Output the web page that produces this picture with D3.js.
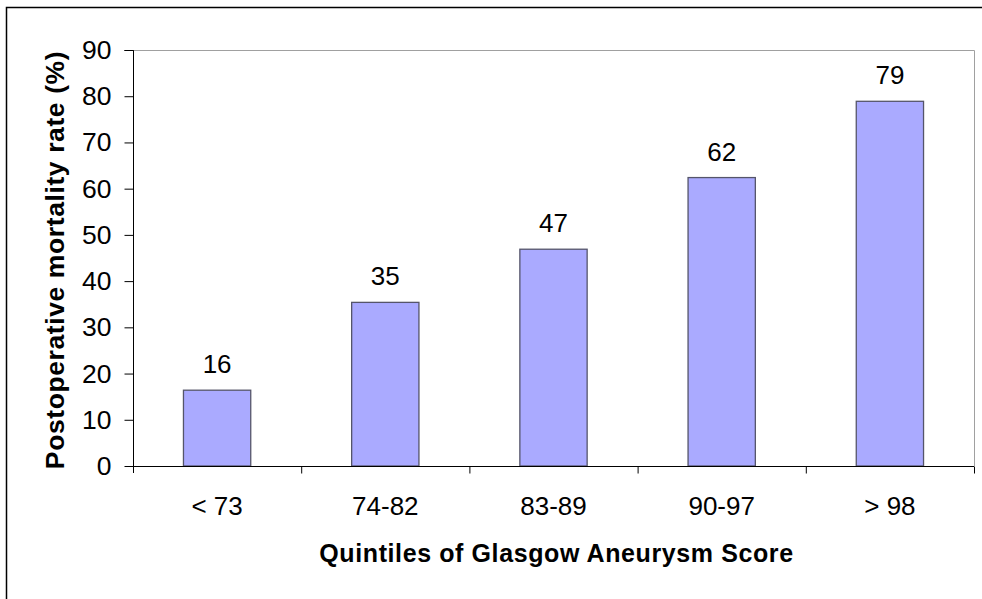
<!DOCTYPE html>
<html>
<head>
<meta charset="utf-8">
<script src="https://cdn.jsdelivr.net/npm/d3@7"></script>
<style>
  body { margin: 0; background: #fff; }
  svg text { font-family: "Liberation Sans", Arial, sans-serif; fill: #000; }
</style>
</head>
<body>
<div id="chart"></div>
<script>
// Data
const categories = ["< 73", "74-82", "83-89", "90-97", "> 98"];
const mortality = [16.4, 35.4, 46.9, 62.4, 78.9];
const yTicks = [0, 10, 20, 30, 40, 50, 60, 70, 80, 90];

// Size & plot area
const W = 982, H = 599;
const plot = { left: 133, right: 974, top: 50, bottom: 466 };

const fmtLabel = d3.format(".0f");

const svg = d3.select("#chart")
  .append("svg")
  .attr("width", W)
  .attr("height", H);

// Outer chart border (runs off the right/bottom edge)
svg.append("rect")
  .attr("x", 6.5)
  .attr("y", 7.5)
  .attr("width", W + 20)
  .attr("height", H + 20)
  .attr("fill", "none")
  .attr("stroke", "#000")
  .attr("stroke-width", 1.5);

// Scales
const x = d3.scaleBand()
  .domain(categories)
  .range([plot.left, plot.right])
  .paddingInner(0.6)
  .paddingOuter(0.3);

const xBand = d3.scaleBand()
  .domain(categories)
  .range([plot.left, plot.right]);

const y = d3.scaleLinear()
  .domain([0, 90])
  .range([plot.bottom, plot.top]);

// Plot area frame (top & right in grey)
svg.append("path")
  .attr("d", "M" + plot.left + "," + (plot.top + 0.5) + "H" + (plot.right + 0.5) + "V" + plot.bottom)
  .attr("fill", "none")
  .attr("stroke", "#a0a0a0")
  .attr("stroke-width", 1);

// Bars
svg.append("g")
  .selectAll("rect")
  .data(mortality)
  .join("rect")
  .attr("x", (d, i) => x(categories[i]))
  .attr("y", (d) => y(d))
  .attr("width", x.bandwidth())
  .attr("height", (d) => y(0) - y(d))
  .attr("fill", "#aaaaff")
  .attr("stroke", "#55556a")
  .attr("stroke-width", 1.3);

// Value labels
svg.append("g")
  .selectAll("text")
  .data(mortality)
  .join("text")
  .attr("x", (d, i) => x(categories[i]) + x.bandwidth() / 2)
  .attr("y", (d) => y(d) - 17)
  .attr("text-anchor", "middle")
  .style("font-size", "26px")
  .text((d) => fmtLabel(d));

// Y axis
const yAxis = d3.axisLeft(y)
  .tickValues(yTicks)
  .tickSize(9)
  .tickPadding(13);

const gy = svg.append("g")
  .attr("transform", "translate(" + (plot.left + 0.5) + ",0)")
  .call(yAxis);
gy.select(".domain").attr("stroke", "#000").attr("d", "M-9," + (plot.top + 0.5) + "H0V" + (plot.bottom + 7));
gy.selectAll("text").style("font-size", "26.5px").attr("font-family", null);

// X axis (ticks between categories)
const xAxis = d3.axisBottom(xBand).tickSize(0).tickPadding(30);
const gx = svg.append("g")
  .attr("transform", "translate(0," + (plot.bottom + 0.5) + ")")
  .call(xAxis);
gx.select(".domain").attr("stroke", "#000").attr("d", "M" + plot.left + ",0H" + plot.right);
gx.selectAll("text").style("font-size", "26px").attr("font-family", null);

gx.selectAll(".sep")
  .data(categories)
  .join("line")
  .attr("class", "sep")
  .attr("x1", (d) => xBand(d) + xBand.bandwidth() + 0.5)
  .attr("x2", (d) => xBand(d) + xBand.bandwidth() + 0.5)
  .attr("y1", 0)
  .attr("y2", 7)
  .attr("stroke", "#000");

// Axis titles
svg.append("text")
  .attr("x", (plot.left + plot.right) / 2 + 3)
  .attr("y", 562)
  .attr("text-anchor", "middle")
  .style("font-size", "25px")
  .style("font-weight", "bold")
  .style("letter-spacing", "0.6px")
  .text("Quintiles of Glasgow Aneurysm Score");

svg.append("text")
  .attr("transform", "translate(64," + ((plot.top + plot.bottom) / 2 + 2) + ") rotate(-90)")
  .attr("text-anchor", "middle")
  .style("font-size", "26.5px")
  .style("font-weight", "bold")
  .style("letter-spacing", "0.6px")
  .text("Postoperative mortality rate (%)");
</script>
</body>
</html>
